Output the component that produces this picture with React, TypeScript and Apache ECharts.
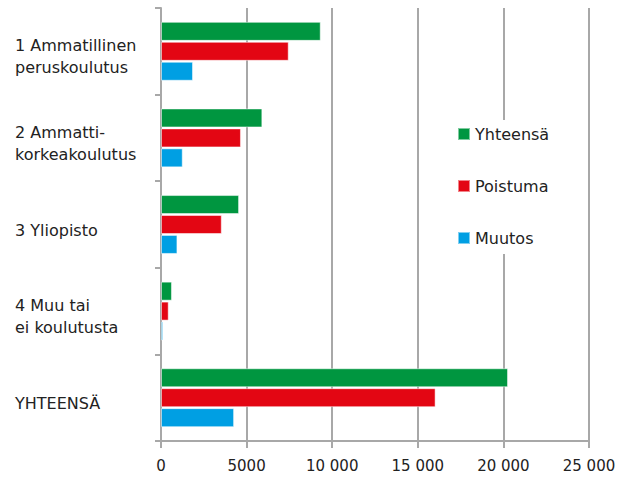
import React, { useEffect, useRef } from "react";
import * as echarts from "echarts";

const categories = [
  "1 Ammatillinen\nperuskoulutus",
  "2 Ammatti-\nkorkeakoulutus",
  "3 Yliopisto",
  "4 Muu tai\nei koulutusta",
  "YHTEENSÄ",
];
const yhteensa = [9330, 5920, 4560, 640, 20270];
const poistuma = [7460, 4670, 3550, 450, 16040];
const muutos = [1870, 1270, 960, 120, 4270];
const seriesNames = ["Yhteensä", "Poistuma", "Muutos"];
const colors = ["#009640", "#e30613", "#009fe3"];

const FONT = "DejaVu Sans";

export default function App() {
  const ref = useRef<HTMLDivElement>(null);
  useEffect(() => {
    if (!ref.current) return;
    const chart = echarts.init(ref.current, null, { renderer: "svg" });
    const data = [yhteensa, poistuma, muutos];
    chart.setOption({
      animation: false,
      textStyle: { fontFamily: FONT },
      grid: { left: 161, right: 30, top: 8, bottom: 39 },
      legend: {
        orient: "vertical",
        left: 447,
        top: 120,
        data: seriesNames,
        icon: "rect",
        itemWidth: 12,
        itemHeight: 12,
        itemGap: 36,
        backgroundColor: "#ffffff",
        padding: [6, 10, 8, 10],
        textStyle: { fontFamily: FONT, fontSize: 16, color: "#222" },
      },
      xAxis: {
        type: "value",
        min: 0,
        max: 25000,
        interval: 5000,
        axisLine: { show: true, lineStyle: { color: "#a8a8a8", width: 2 } },
        axisTick: { show: true, length: 7, lineStyle: { color: "#a8a8a8", width: 2 } },
        splitLine: { show: true, lineStyle: { color: "#a8a8a8", width: 2 } },
        axisLabel: {
          margin: 17,
          fontSize: 15,
          color: "#222",
          fontFamily: FONT,
          formatter: (v: number) =>
            v >= 10000 ? String(v).replace(/(\d)(?=(\d{3})$)/, "$1 ") : String(v),
        },
      },
      yAxis: {
        type: "category",
        inverse: true,
        data: categories,
        axisLine: { show: true, lineStyle: { color: "#a8a8a8", width: 2 } },
        axisTick: { show: true, length: 6, lineStyle: { color: "#a8a8a8", width: 2 } },
        axisLabel: {
          align: "left",
          margin: 146,
          color: "#222",
          fontFamily: FONT,
          formatter: (v: string) =>
            "{s| }\n" + v.split("\n").map((l) => `{a|${l}}`).join("\n"),
          rich: {
            s: { fontSize: 4, lineHeight: 11, fontFamily: FONT },
            a: { fontSize: 16, lineHeight: 22, color: "#222", fontFamily: FONT },
          },
        },
      },
      series: seriesNames.map((name, i) => ({
        name,
        type: "bar",
        data: data[i],
        barWidth: 19,
        barGap: "5%",
        itemStyle: { color: colors[i], borderColor: "rgba(255,255,255,0.5)", borderWidth: 1 },
      })),
    });
    return () => chart.dispose();
  }, []);
  return (
    <div
      ref={ref}
      style={{ position: "absolute", left: 0, top: 0, width: 619, height: 480 }}
    />
  );
}
